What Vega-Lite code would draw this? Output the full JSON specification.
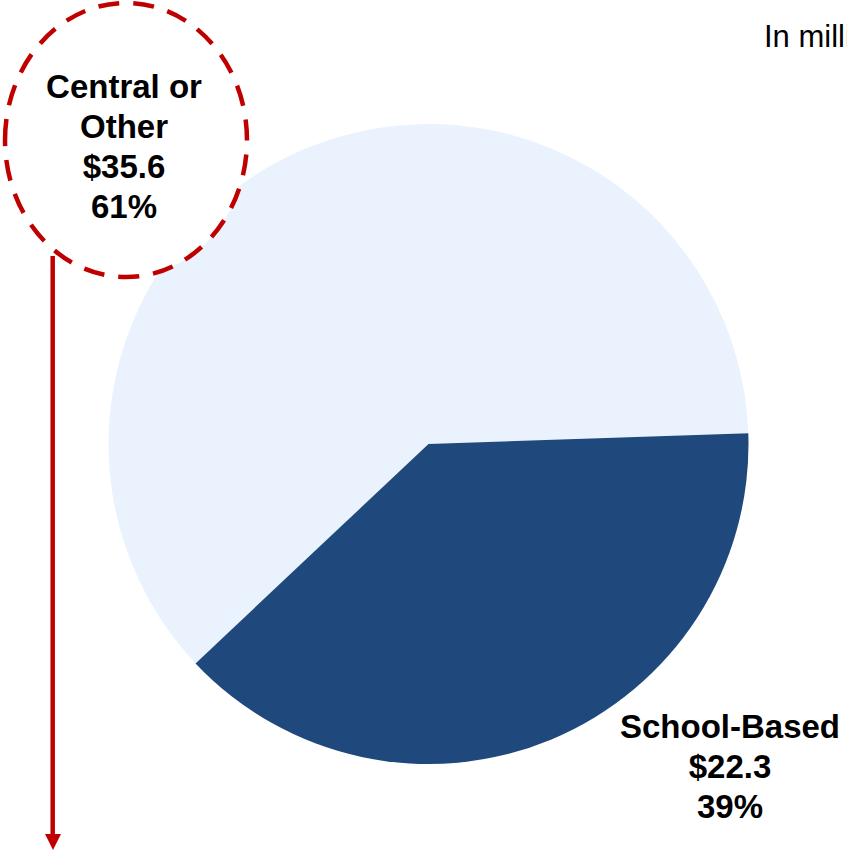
{
  "$schema": "https://vega.github.io/schema/vega-lite/v6.json",
  "autosize": {"type": "none"},
  "width": 837,
  "height": 812,
  "padding": {"left": 10, "top": 38, "right": 0, "bottom": 0},
  "background": "white",
  "config": {"view": {"stroke": null}},
  "datasets": {
    "slices": [
      {"category": "Central or Other", "amount": 35.6, "pct": 61, "label": "Central or\nOther\n$35.6\n61%"},
      {"category": "School-Based", "amount": 22.3, "pct": 39, "label": "School-Based\n$22.3\n39%"}
    ],
    "note": [{"text": "In millions"}]
  },
  "layer": [
    {
      "data": {"name": "slices"},
      "mark": {"type": "arc", "outerRadius": 320, "stroke": null},
      "encoding": {
        "theta": {"field": "amount", "type": "quantitative", "stack": true, "scale": {"range": [3.957, 10.2402]}},
        "order": {"field": "category", "sort": "ascending"},
        "color": {"field": "category", "type": "nominal", "legend": null,
          "scale": {"domain": ["Central or Other", "School-Based"], "range": ["#EAF3FD", "#1F497D"]}}
      }
    },
    {
      "data": {"values": [{}]},
      "mark": {"type": "point", "shape": "M -0.883 0 A 0.883 1 0 1 1 0.883 0 A 0.883 1 0 1 1 -0.883 0 Z",
        "size": 75076, "filled": false, "fill": "white", "fillOpacity": 1, "stroke": "#C00000", "strokeWidth": 4.5, "strokeDash": [21, 14], "opacity": 1},
      "encoding": {
        "x": {"datum": 126, "type": "quantitative", "scale": {"domain": [10, 847], "nice": false, "zero": false}, "axis": null},
        "y": {"datum": 140, "type": "quantitative", "scale": {"domain": [38, 850], "nice": false, "zero": false, "reverse": true}, "axis": null}
      }
    },
    {
      "data": {"name": "slices"},
      "transform": [{"filter": "datum.category === 'Central or Other'"}],
      "mark": {"type": "text", "font": "Liberation Sans", "fontWeight": "bold", "fontSize": 33, "align": "center", "baseline": "alphabetic", "lineBreak": "\n", "lineHeight": 40, "color": "black"},
      "encoding": {
        "text": {"field": "label", "type": "nominal"},
        "x": {"datum": 124, "type": "quantitative"},
        "y": {"datum": 98, "type": "quantitative"}
      }
    },
    {
      "data": {"name": "slices"},
      "transform": [{"filter": "datum.category === 'School-Based'"}],
      "mark": {"type": "text", "font": "Liberation Sans", "fontWeight": "bold", "fontSize": 33, "align": "center", "baseline": "alphabetic", "lineBreak": "\n", "lineHeight": 40, "color": "black"},
      "encoding": {
        "text": {"field": "label", "type": "nominal"},
        "x": {"datum": 730, "type": "quantitative"},
        "y": {"datum": 738, "type": "quantitative"}
      }
    },
    {
      "data": {"name": "note"},
      "mark": {"type": "text", "font": "Liberation Sans", "fontSize": 31, "align": "left", "baseline": "alphabetic", "color": "black"},
      "encoding": {
        "text": {"field": "text", "type": "nominal"},
        "x": {"datum": 764, "type": "quantitative"},
        "y": {"datum": 47, "type": "quantitative"}
      }
    },
    {
      "data": {"values": [{}]},
      "mark": {"type": "rule", "color": "#C00000", "strokeWidth": 4.5},
      "encoding": {
        "x": {"datum": 52.7, "type": "quantitative"},
        "y": {"datum": 256, "type": "quantitative"},
        "y2": {"datum": 836}
      }
    },
    {
      "data": {"values": [{}]},
      "mark": {"type": "point", "shape": "M -1 -1 L 1 -1 L 0 1 Z", "size": 256, "filled": true, "color": "#C00000", "opacity": 1, "strokeWidth": 0},
      "encoding": {
        "x": {"datum": 53, "type": "quantitative"},
        "y": {"datum": 842, "type": "quantitative"}
      }
    }
  ]
}
